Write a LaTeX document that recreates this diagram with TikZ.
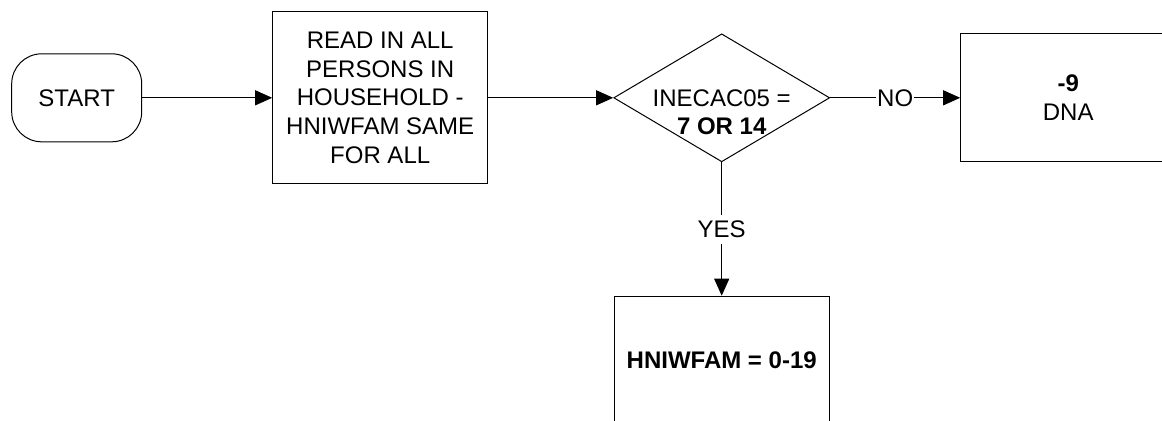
\documentclass[tikz,border=0pt]{standalone}
\usepackage{fontspec}
\setmainfont{Liberation Sans}
\usetikzlibrary{arrows.meta,positioning,shapes.geometric}

\begin{document}
\begin{tikzpicture}[
  x=0.5pt, y=-0.5pt, line width=0.5pt,
  font=\fontsize{12pt}{14.4pt}\selectfont,
  term/.style={draw, rounded corners=15pt, minimum width=65pt, minimum height=44pt},
  box/.style={draw, align=center, inner sep=2pt, minimum width=107.5pt},
  decision/.style={draw, diamond, inner sep=0pt, minimum width=108pt, minimum height=64pt},
  arrow/.style={-{Triangle[length=8.5pt,width=7.5pt]}},
  answer/.style={fill=white, inner xsep=0.5pt, inner ysep=3pt}
]
\useasboundingbox (0,0) rectangle (1162,420);
\node[term] (start) at (76.7,97.8) {START};
\node[box, minimum height=86pt, right=65pt of start] (read)
  {READ IN ALL\\PERSONS IN\\HOUSEHOLD -\\HNIWFAM SAME\\FOR ALL};
\node[decision, right=62.5pt of read, label={[align=center, yshift=-7.25pt]center:INECAC05 =\\\textbf{7 OR 14}}] (dec) {};
\node[box, minimum height=64pt, right=65pt of dec] (dna) {\textbf{-9}\\DNA};
\node[box, minimum height=64pt, below=66.7pt of dec] (fam) {\textbf{HNIWFAM = 0-19}};
\draw[arrow] (start) -- (read);
\draw[arrow] (read) -- (dec);
\draw[arrow] (dec) -- node[answer] {NO} (dna);
\draw[arrow] (dec) -- node[answer] {YES} (fam);
\end{tikzpicture}
\end{document}
